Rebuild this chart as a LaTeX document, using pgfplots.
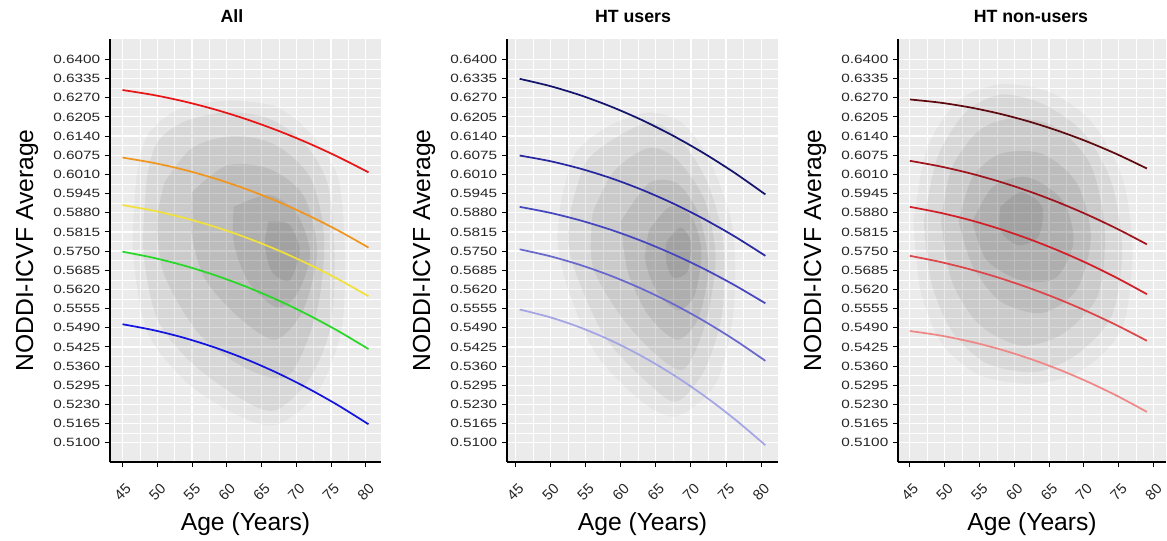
\documentclass[border=0pt]{standalone}
\usepackage{fontspec}
\setmainfont{Liberation Sans}
\usepackage{graphicx}
\usepackage{pgfplots}
\pgfplotsset{compat=1.18}

\definecolor{bg}{HTML}{EBEBEB}
\definecolor{aR}{RGB}{232,20,22}
\definecolor{aO}{RGB}{240,150,30}
\definecolor{aY}{RGB}{240,225,60}
\definecolor{aG}{RGB}{40,215,40}
\definecolor{aB}{RGB}{20,20,225}
\definecolor{u1}{RGB}{20,20,110}
\definecolor{u2}{RGB}{40,40,160}
\definecolor{u3}{RGB}{70,70,190}
\definecolor{u4}{RGB}{105,105,205}
\definecolor{u5}{RGB}{165,165,230}
\definecolor{n1}{RGB}{95,10,15}
\definecolor{n2}{RGB}{160,20,30}
\definecolor{n3}{RGB}{210,30,40}
\definecolor{n4}{RGB}{220,70,75}
\definecolor{n5}{RGB}{240,135,135}

\pgfplotsset{
 panel/.style={
  scale only axis, width=203.25pt, height=317.25pt,
  anchor=south west,
  ymin=0.5035, ymax=0.6469,
  axis x line*=bottom, axis y line*=left,
  axis line style={black, line width=0.8pt},
  axis background/.style={fill=bg},
  xtick={45,50,...,80},
  ytick={0.51,0.5165,0.523,0.5295,0.536,0.5425,0.549,0.5555,0.562,0.5685,0.575,0.5815,0.588,0.5945,0.601,0.6075,0.614,0.6205,0.627,0.6335,0.64},
  minor x tick num=1, minor y tick num=1,
  grid=both,
  major grid style={white, line width=0.9pt},
  minor grid style={white, line width=0.45pt},
  tick align=outside, major tick length=3.75pt, minor tick length=0pt,
  tick style={black, line width=0.7pt},
  ticklabel style={text=black!85},
  yticklabel style={font=\fontsize{9}{10}\selectfont},
  /pgf/number format/assume math mode=true,
  yticklabel={\scalebox{1.28}[1]{\pgfmathprintnumber[fixed,fixed zerofill,precision=4]{\tick}}},
  xticklabel style={font=\fontsize{11}{12}\selectfont, inner sep=0pt, yshift=-19pt, rotate=45, anchor=center},
  title style={font=\fontsize{13.3}{15}\selectfont\bfseries, anchor=center, yshift=10.9pt},
  label style={font=\fontsize{18.5}{20}\selectfont},
  xlabel={Age (Years)},
  ylabel={NODDI-ICVF Average},
  xlabel style={at={(axis description cs:0.5,-0.161)}, anchor=base},
 },
 dens/.style={draw=none, fill=black, fill opacity=#1, smooth, forget plot},
 cur/.style={color=#1, line width=1.3pt, smooth, no marks},
}

\begin{document}
\begin{tikzpicture}
\path[use as bounding box] (0,0) rectangle (875.25pt,-405.75pt);

% ---------------- Panel 1: All
\begin{axis}[panel, at={(82.5pt,-346.5pt)}, xmin=43.2, xmax=82.2,
  title={All}, title style={at={(0.45,1)}},
  ylabel style={at={(axis description cs:-0.284,0.5)}, anchor=base}]
\addplot[dens=0.03] coordinates {(47,0.600) (48.5,0.614) (53,0.623) (60,0.626) (67,0.624) (72,0.615) (76,0.600) (77,0.575) (76.5,0.548) (73,0.527) (67,0.516) (61,0.520) (54,0.531) (48.5,0.548) (46.5,0.575) (47,0.600)} -- cycle;
\addplot[dens=0.05] coordinates {(48.5,0.600) (50,0.612) (54,0.619) (60,0.622) (66,0.620) (71,0.612) (74.5,0.598) (75.5,0.575) (75,0.550) (72,0.532) (67,0.521) (62,0.525) (55,0.537) (50,0.552) (48,0.575) (48.5,0.600)} -- cycle;
\addplot[dens=0.06] coordinates {(51,0.598) (55,0.610) (61,0.614) (67,0.611) (72,0.600) (74,0.580) (73,0.555) (69,0.533) (63,0.535) (56,0.547) (51,0.567) (50,0.585) (51,0.598)} -- cycle;
\addplot[dens=0.065] coordinates {(55,0.595) (60,0.604) (66,0.603) (71,0.594) (73,0.575) (71,0.555) (67,0.545) (62,0.552) (57,0.565) (55,0.580) (55,0.595)} -- cycle;
\addplot[dens=0.07] coordinates {(61,0.590) (66,0.594) (70,0.588) (72,0.574) (70,0.560) (67,0.556) (63,0.565) (61,0.578) (61,0.590)} -- cycle;
\addplot[dens=0.075] coordinates {(66,0.585) (69,0.584) (70.5,0.575) (69,0.565) (66.5,0.568) (65.5,0.577) (66,0.585)} -- cycle;
\addplot[cur=aR] coordinates {(45,0.6296) (49.425,0.62793) (53.85,0.62574) (58.275,0.62303) (62.7,0.6198) (67.125,0.61605) (71.55,0.61179) (75.975,0.60700) (80.4,0.6017)};
\addplot[cur=aO] coordinates {(45,0.6067) (49.425,0.60492) (53.85,0.60256) (58.275,0.59962) (62.7,0.5961) (67.125,0.59200) (71.55,0.58731) (75.975,0.58205) (80.4,0.5762)};
\addplot[cur=aY] coordinates {(45,0.5906) (49.425,0.58872) (53.85,0.58627) (58.275,0.58325) (62.7,0.57967) (67.125,0.57553) (71.55,0.57082) (75.975,0.56554) (80.4,0.5597)};
\addplot[cur=aG] coordinates {(45,0.5748) (49.425,0.57274) (53.85,0.57009) (58.275,0.56685) (62.7,0.56302) (67.125,0.5586) (71.55,0.55359) (75.975,0.54799) (80.4,0.5418)};
\addplot[cur=aB] coordinates {(45,0.5502) (49.425,0.54822) (53.85,0.5456) (58.275,0.54233) (62.7,0.53842) (67.125,0.53386) (71.55,0.52865) (75.975,0.5228) (80.4,0.5163)};
\end{axis}

% ---------------- Panel 2: HT users
\begin{axis}[panel, at={(380.25pt,-346.5pt)}, xmin=43.8, xmax=82.4,
  title={HT users}, title style={at={(0.465,1)}},
  ylabel style={at={(axis description cs:-0.284,0.5)}, anchor=base}]
\addplot[dens=0.03] coordinates {(51.5,0.592) (53.5,0.608) (58,0.617) (64,0.622) (69,0.618) (73,0.604) (76,0.582) (76,0.553) (73.5,0.530) (68,0.519) (63,0.524) (56.5,0.540) (52.5,0.562) (51,0.578) (51.5,0.592)} -- cycle;
\addplot[dens=0.05] coordinates {(53,0.590) (55,0.605) (59,0.613) (64,0.6185) (68,0.614) (72,0.600) (74.5,0.580) (74.5,0.555) (72,0.535) (68,0.524) (64,0.530) (58,0.545) (54,0.565) (52.5,0.578) (53,0.590)} -- cycle;
\addplot[dens=0.06] coordinates {(56,0.588) (59,0.602) (64,0.610) (68,0.606) (72,0.592) (73.5,0.572) (72,0.550) (69,0.535) (65,0.540) (60,0.553) (56,0.570) (56,0.588)} -- cycle;
\addplot[dens=0.065] coordinates {(60,0.585) (64,0.598) (68,0.598) (71,0.588) (72.5,0.570) (71,0.552) (68,0.545) (64,0.553) (61,0.568) (60,0.585)} -- cycle;
\addplot[dens=0.07] coordinates {(64,0.582) (67,0.590) (70,0.587) (71.5,0.575) (70.5,0.560) (68,0.555) (65,0.562) (63.5,0.572) (64,0.582)} -- cycle;
\addplot[dens=0.075] coordinates {(66.5,0.578) (68.5,0.583) (70,0.578) (69.5,0.568) (67.5,0.566) (66.5,0.571) (66.5,0.578)} -- cycle;
\addplot[cur=u1] coordinates {(45.6,0.6334) (49.975,0.63092) (54.35,0.62775) (58.725,0.62388) (63.1,0.61933) (67.475,0.61408) (71.85,0.60815) (76.225,0.60152) (80.6,0.5942)};
\addplot[cur=u2] coordinates {(45.6,0.6074) (49.975,0.60547) (54.35,0.60288) (58.725,0.59963) (63.1,0.59571) (67.475,0.59113) (71.85,0.58588) (76.225,0.57997) (80.6,0.5734)};
\addplot[cur=u3] coordinates {(45.6,0.5900) (49.975,0.58796) (54.35,0.58533) (58.725,0.58212) (63.1,0.57832) (67.475,0.57394) (71.85,0.56898) (76.225,0.56343) (80.6,0.5573)};
\addplot[cur=u4] coordinates {(45.6,0.5756) (49.975,0.57324) (54.35,0.57021) (58.725,0.5665) (63.1,0.56211) (67.475,0.55705) (71.85,0.55131) (76.225,0.54489) (80.6,0.5378)};
\addplot[cur=u5] coordinates {(45.6,0.5552) (49.975,0.55254) (54.35,0.549) (58.725,0.54457) (63.1,0.53926) (67.475,0.53307) (71.85,0.526) (76.225,0.51804) (80.6,0.5092)};
\end{axis}

% ---------------- Panel 3: HT non-users
\begin{axis}[panel, at={(673.5pt,-346.5pt)}, width=201pt, xmin=43.3, xmax=81.8,
  title={HT non-users}, title style={at={(0.496,1)}},
  ylabel style={at={(axis description cs:-0.287,0.5)}, anchor=base}]
\addplot[dens=0.03] coordinates {(45.5,0.585) (47.5,0.610) (52,0.626) (58,0.6315) (65,0.629) (71,0.619) (75.5,0.600) (77,0.575) (75.5,0.549) (70,0.535) (63,0.530) (55,0.533) (49.5,0.544) (46.5,0.562) (45.5,0.585)} -- cycle;
\addplot[dens=0.05] coordinates {(47,0.585) (49,0.607) (53,0.622) (58,0.628) (64,0.625) (70,0.615) (74,0.598) (75.5,0.575) (74,0.553) (69,0.540) (63,0.534) (56,0.537) (51,0.548) (48,0.565) (47,0.585)} -- cycle;
\addplot[dens=0.06] coordinates {(49.5,0.585) (51,0.603) (55,0.616) (60,0.620) (66,0.617) (71,0.604) (73,0.582) (72,0.560) (67,0.547) (61,0.543) (55,0.550) (51,0.565) (49.5,0.585)} -- cycle;
\addplot[dens=0.065] coordinates {(52,0.585) (54,0.600) (58,0.608) (64,0.608) (69,0.598) (71,0.580) (69,0.562) (64,0.554) (58,0.558) (54,0.570) (52,0.585)} -- cycle;
\addplot[dens=0.07] coordinates {(54,0.585) (57,0.597) (62,0.600) (67,0.592) (68.5,0.578) (66,0.566) (61,0.565) (56,0.572) (54,0.585)} -- cycle;
\addplot[dens=0.075] coordinates {(58,0.590) (61,0.595) (64,0.590) (63.5,0.580) (60.5,0.577) (58,0.582) (58,0.590)} -- cycle;
\addplot[cur=n1] coordinates {(45,0.6264) (49.256,0.62535) (53.513,0.62376) (57.769,0.62164) (62.025,0.61898) (66.281,0.61579) (70.538,0.61206) (74.794,0.6078) (79.05,0.6030)};
\addplot[cur=n2] coordinates {(45,0.6056) (49.256,0.60376) (53.513,0.60144) (57.769,0.59863) (62.025,0.59534) (66.281,0.59156) (70.538,0.58729) (74.794,0.58254) (79.05,0.5773)};
\addplot[cur=n3] coordinates {(45,0.5900) (49.256,0.58804) (53.513,0.58559) (57.769,0.58263) (62.025,0.57918) (66.281,0.57523) (70.538,0.57079) (74.794,0.56584) (79.05,0.5604)};
\addplot[cur=n4] coordinates {(45,0.5734) (49.256,0.57138) (53.513,0.5689) (57.769,0.56598) (62.025,0.5626) (66.281,0.55878) (70.538,0.5545) (74.794,0.54978) (79.05,0.5446)};
\addplot[cur=n5] coordinates {(45,0.5479) (49.256,0.54644) (53.513,0.54441) (57.769,0.54183) (62.025,0.53868) (66.281,0.53498) (70.538,0.53071) (74.794,0.52589) (79.05,0.5205)};
\end{axis}
\end{tikzpicture}
\end{document}
